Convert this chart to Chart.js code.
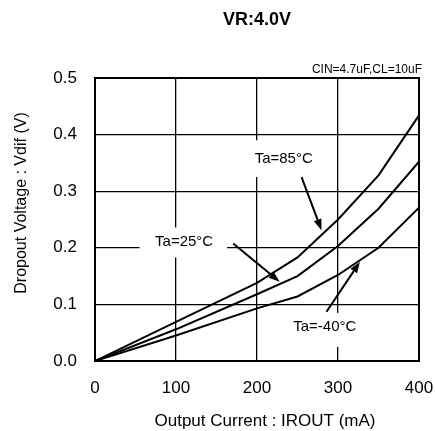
<!DOCTYPE html>
<html>
<head>
<meta charset="utf-8">
<script src="https://cdn.jsdelivr.net/npm/chart.js@4/dist/chart.umd.min.js"></script>
<style>
  html, body { margin: 0; padding: 0; background: #fff; }
  canvas { display: block; }
</style>
</head>
<body>
<canvas id="chart" width="435" height="431"></canvas>
<script>
// output current (mA) and dropout voltage (V)
const current = [0, 100, 200, 250, 300, 350, 400];
const vdif85 = [0, 0.069, 0.138, 0.183, 0.250, 0.328, 0.434];
const vdif25 = [0, 0.056, 0.118, 0.150, 0.203, 0.269, 0.352];
const vdifM40 = [0, 0.045, 0.093, 0.114, 0.152, 0.200, 0.271];
const xTicks = [0, 100, 200, 300, 400];
const yTicks = [0, 0.1, 0.2, 0.3, 0.4, 0.5];

const FONT = "'Liberation Sans', Arial, sans-serif";

function pts(ys) {
  return current.map((x, i) => ({ x: x, y: ys[i] }));
}

// labels with arrows, in data units
const notes = [
  { text: "Ta=85°C", at: [233, 0.358], box: [185, 277, 0.390, 0.325], from: [255, 0.325], to: [279.6, 0.231] },
  { text: "Ta=25°C", at: [110, 0.210], box: [55, 163, 0.236, 0.183], from: [170.6, 0.2076], to: [228, 0.140] },
  { text: "Ta=-40°C", at: [283.7, 0.060], box: [238, 329, 0.085, 0.025], from: [285.8, 0.087], to: [327, 0.175] },
];

const extras = {
  id: "extras",
  beforeDatasetsDraw(chart) {
    const { ctx, scales: { x, y } } = chart;
    ctx.save();
    ctx.fillStyle = "#fff";
    notes.forEach((n) => {
      const l = x.getPixelForValue(n.box[0]), r = x.getPixelForValue(n.box[1]);
      const t = y.getPixelForValue(n.box[2]), b = y.getPixelForValue(n.box[3]);
      ctx.fillRect(l, t, r - l, b - t);
    });
    ctx.restore();
  },
  afterDatasetsDraw(chart) {
    const { ctx, chartArea: a, scales: { x, y } } = chart;
    ctx.save();
    // frame
    ctx.strokeStyle = "#000";
    ctx.lineWidth = 2;
    ctx.strokeRect(a.left, a.top, a.right - a.left, a.bottom - a.top);

    ctx.fillStyle = "#000";
    ctx.textAlign = "center";
    ctx.textBaseline = "middle";
    ctx.font = "15px " + FONT;
    notes.forEach((n) => {
      ctx.fillText(n.text, x.getPixelForValue(n.at[0]), y.getPixelForValue(n.at[1]));
      const x1 = x.getPixelForValue(n.from[0]), y1 = y.getPixelForValue(n.from[1]);
      const x2 = x.getPixelForValue(n.to[0]), y2 = y.getPixelForValue(n.to[1]);
      const ang = Math.atan2(y2 - y1, x2 - x1);
      const hl = 11, hw = 4;
      const bx = x2 - hl * Math.cos(ang), by = y2 - hl * Math.sin(ang);
      ctx.lineWidth = 2;
      ctx.beginPath();
      ctx.moveTo(x1, y1);
      ctx.lineTo(bx, by);
      ctx.stroke();
      ctx.beginPath();
      ctx.moveTo(x2, y2);
      ctx.lineTo(bx + hw * Math.sin(ang), by - hw * Math.cos(ang));
      ctx.lineTo(bx - hw * Math.sin(ang), by + hw * Math.cos(ang));
      ctx.closePath();
      ctx.fill();
    });

    // titles
    ctx.font = "bold 18px " + FONT;
    ctx.fillText("VR:4.0V", (a.left + a.right) / 2, 20);
    ctx.font = "12px " + FONT;
    ctx.textAlign = "right";
    ctx.fillText("CIN=4.7uF,CL=10uF", 422, 70);
    ctx.textAlign = "center";
    ctx.font = "17px " + FONT;
    ctx.fillText("Output Current : IROUT (mA)", 265, 421);
    ctx.translate(22, 203);
    ctx.rotate(-Math.PI / 2);
    ctx.font = "16px " + FONT;
    ctx.fillText("Dropout Voltage : Vdif (V)", 0, 0);
    ctx.restore();
  },
};

const line = (label, ys) => ({
  label: label,
  data: pts(ys),
  borderColor: "#000",
  borderWidth: 2,
  pointRadius: 0,
  tension: 0,
  fill: false,
});

new Chart(document.getElementById("chart"), {
  type: "line",
  data: {
    datasets: [
      line("Ta=85°C", vdif85),
      line("Ta=25°C", vdif25),
      line("Ta=-40°C", vdifM40),
    ],
  },
  options: {
    responsive: false,
    animation: false,
    layout: { padding: { top: 78, right: 0, left: 0, bottom: 0 } },
    plugins: { legend: { display: false }, tooltip: { enabled: false } },
    scales: {
      x: {
        type: "linear",
        min: 0,
        max: 400,
        afterBuildTicks: (s) => { s.ticks = xTicks.map((v) => ({ value: v })); },
        afterFit: (s) => {
          s.height = 70;
          s.paddingLeft = 0;
          s.paddingRight = 16;
        },
        grid: { color: "#000", lineWidth: 1.3, drawTicks: false },
        border: { display: false },
        ticks: { color: "#000", padding: 17, font: { family: FONT, size: 17 } },
      },
      y: {
        min: 0,
        max: 0.5,
        afterBuildTicks: (s) => { s.ticks = yTicks.map((v) => ({ value: v })); },
        afterFit: (s) => {
          s.width = 95;
          s.paddingTop = 0;
          s.paddingBottom = 0;
        },
        grid: { color: "#000", lineWidth: 1.3, drawTicks: false },
        border: { display: false },
        ticks: {
          color: "#000",
          padding: 18,
          font: { family: FONT, size: 17 },
          callback: (v) => v.toFixed(1),
        },
      },
    },
  },
  plugins: [extras],
});
</script>
</body>
</html>
